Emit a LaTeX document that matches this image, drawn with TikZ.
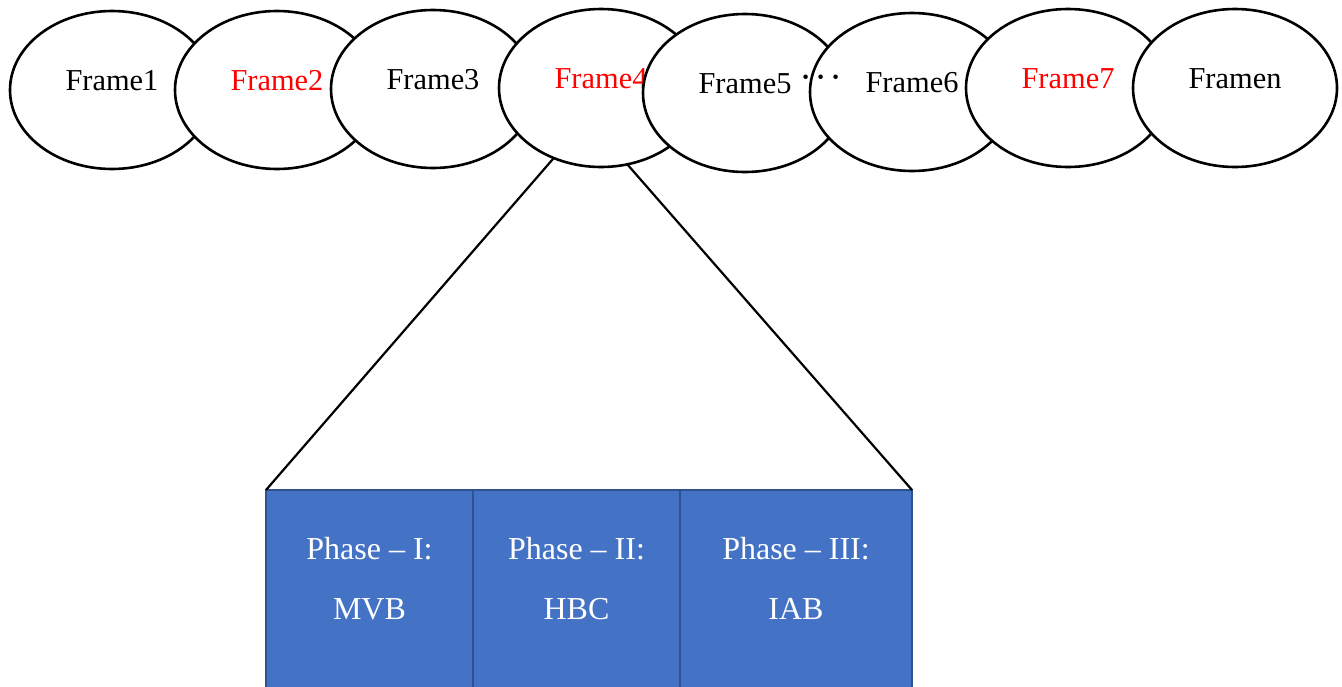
\documentclass[tikz,border=0pt]{standalone}
\usepackage{fontspec}
\setmainfont{Liberation Serif}
\usetikzlibrary{positioning,shapes.geometric}
\definecolor{PhaseFill}{HTML}{4472C4}
\definecolor{PhaseLine}{HTML}{2F528F}
\definecolor{FrameRed}{RGB}{255,0,0}

\begin{document}
\begin{tikzpicture}[x=0.5pt,y=-0.5pt,frm/.style={ellipse,draw,fill=white,line width=1.3pt,minimum width=102pt,minimum height=79pt,inner sep=0pt,outer sep=0pt},phbox/.style={rectangle,draw=PhaseLine,fill=PhaseFill,line width=1pt,minimum height=100pt,inner sep=0pt,outer sep=0pt},phtxt/.style={anchor=base,text=white,inner sep=0pt,font=\fontsize{16}{19}\selectfont}]
\useasboundingbox (0,0) rectangle (1342,686);
% frames
\foreach \n/\x/\y/\c/\t in %
{1/112/90/black/Frame1,2/277/90/FrameRed/Frame2,3/433/89/black/Frame3,4/601/88/FrameRed/Frame4,%
5/745/93/black/Frame5,6/912/92/black/Frame6,7/1068/88/FrameRed/Frame7,8/1235/88/black/Framen} {
   \node[frm,label={[yshift=4.6pt,inner sep=0pt,text=\c,font=\fontsize{15.2}{18}\selectfont]center:\t}] (f\n) at (\x,\y) {};
}
\node[inner sep=0pt,font=\boldmath\fontsize{15.6}{18}\selectfont] (dots) at (821,78) {$\cdots$};
% phases of frame 4
\node[phbox,anchor=north west,minimum width=103.5pt] (ph1) at (266,490) {};
\node[phbox,minimum width=103.5pt,right=0pt of ph1] (ph2) {};
\node[phbox,minimum width=116pt,right=0pt of ph2] (ph3) {};
\foreach \i/\a/\b in {1/I/MVB,2/II/HBC,3/III/IAB} {
   \node[phtxt] (pt\i) at (ph\i.north |- 0,559) {Phase – \a:};
   \node[phtxt] (pn\i) at (ph\i.north |- 0,619) {\b};
}
\draw[line width=1.1pt] (f4.236) -- (ph1.north west);
\draw[line width=1.1pt] (f4.289) -- (ph3.north east);
\end{tikzpicture}
\end{document}
